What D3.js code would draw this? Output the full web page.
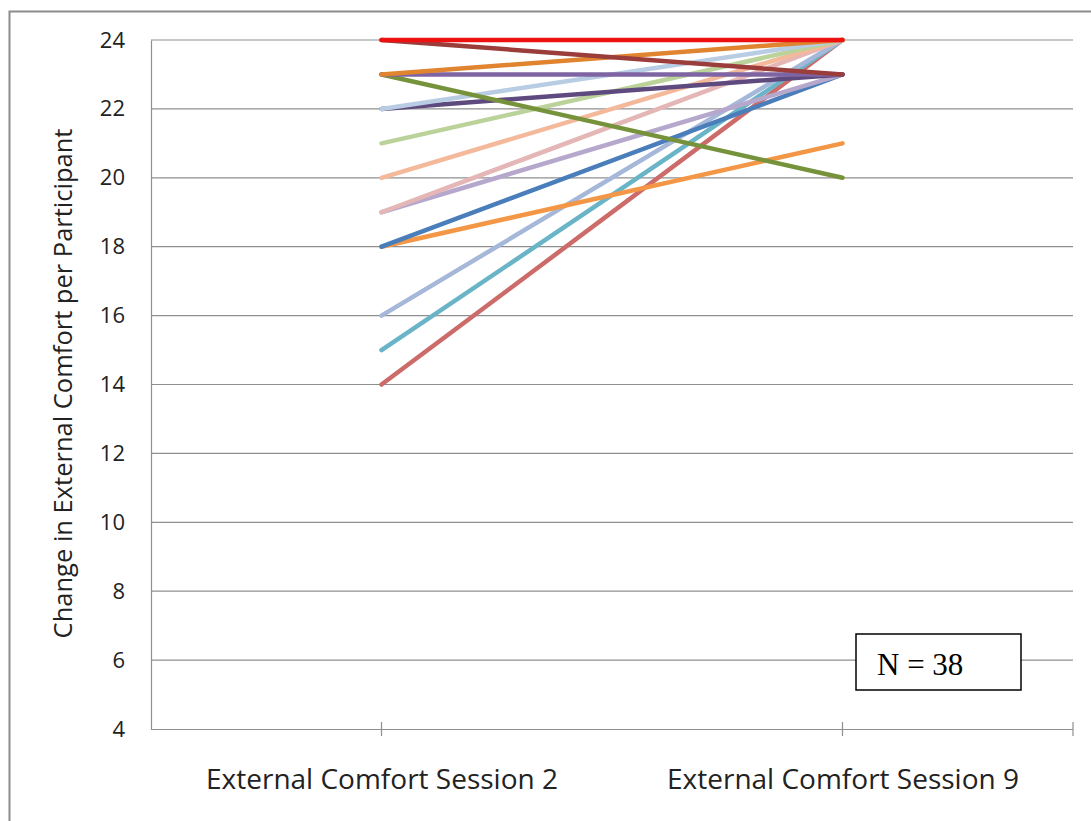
<!DOCTYPE html>
<html><head><meta charset="utf-8">
<script src="https://cdn.jsdelivr.net/npm/d3@7"></script>
<style>body{margin:0;background:#fff;} svg{display:block;}</style>
</head><body>
<svg id="c" width="1091" height="821"></svg>
<script>
const categories = ["External Comfort Session 2", "External Comfort Session 9"];
const yTicks = [4, 6, 8, 10, 12, 14, 16, 18, 20, 22, 24];
const session2 = [14, 15, 16, 18, 18, 19, 19, 20, 21, 22, 22, 23, 23, 23, 24, 24];
const session9 = [24, 24, 24, 21, 23, 23, 24, 24, 24, 23, 24, 20, 23, 24, 23, 24];
const colors = ["#CC6B6A", "#6AB4C8", "#A5B8D9", "#F39645", "#4A7EBB", "#B6A8CC", "#E4B6B5", "#F4B99A", "#BBD29A", "#5E4A7E", "#B8CCE4", "#76933C", "#7E64A2", "#E0842F", "#9A3D3B", "#EE1111"];
const nLabel = "N = 38";

const svg = d3.select("#c");
const L = 151, R = 1073, T = 40, B = 729;
const FONT = "'Open Sans', Lato, sans-serif";
const y = d3.scaleLinear().domain([4, 24]).range([B, T]);
const x = d3.scalePoint().domain(categories).range([L, R]).padding(0.5);

// chart border
svg.append("path").attr("d", `M9.5,821 V11.5 H1091`).attr("fill", "none").attr("stroke", "#8c8c8c").attr("stroke-width", 2);

// gridlines
svg.append("g").selectAll("line").data(yTicks.filter(d => d > 4)).join("line")
  .attr("x1", L).attr("x2", R).attr("y1", d => y(d)).attr("y2", d => y(d))
  .attr("stroke", "#8f8f8f").attr("stroke-width", 1.2);

// y axis
const ya = svg.append("g").attr("transform", `translate(${L},0)`)
  .call(d3.axisLeft(y).tickValues(yTicks).tickSize(0).tickPadding(26));
ya.select(".domain").attr("stroke", "#8f8f8f").attr("stroke-width", 1.2);
ya.selectAll("text").attr("font-family", FONT).attr("font-size", 22).attr("fill", "#222");

// x axis
const xa = svg.append("g").attr("transform", `translate(0,${B})`)
  .call(d3.axisBottom(x).tickSize(0).tickPadding(40));
xa.select(".domain").attr("d", `M${L},0.5H${R}`).attr("stroke", "#8f8f8f").attr("stroke-width", 1.2);
xa.selectAll("text").attr("font-family", FONT).attr("font-size", 28).attr("fill", "#222");
const tickX = categories.map(c => x(c)).concat([R]);
xa.selectAll("line.tk").data(tickX).join("line").attr("class", "tk")
  .attr("x1", d => d).attr("x2", d => d).attr("y1", -7).attr("y2", 7)
  .attr("stroke", "#8f8f8f").attr("stroke-width", 1.2);

// y axis title
svg.append("text").attr("transform", `translate(72,${(T + B) / 2 - 1}) rotate(-90)`)
  .attr("text-anchor", "middle").attr("font-family", FONT)
  .attr("font-size", 25.5).attr("fill", "#222").text("Change in External Comfort per Participant");

// lines
const line = d3.line().x(d => x(d[0])).y(d => y(d[1]));
svg.append("g").selectAll("path").data(session2.map((v, i) => i)).join("path")
  .attr("d", i => line([[categories[0], session2[i]], [categories[1], session9[i]]]))
  .attr("fill", "none").attr("stroke", i => colors[i]).attr("stroke-width", 4.5).attr("stroke-linecap", "round");

// N box
const g = svg.append("g");
g.append("rect").attr("x", 856).attr("y", 634).attr("width", 165).attr("height", 56)
  .attr("fill", "#fff").attr("stroke", "#000").attr("stroke-width", 1.5);
g.append("text").attr("x", 877).attr("y", 675).attr("font-family", "'Liberation Serif', serif")
  .attr("font-size", 31).attr("fill", "#000").text(nLabel);
</script>
</body></html>
